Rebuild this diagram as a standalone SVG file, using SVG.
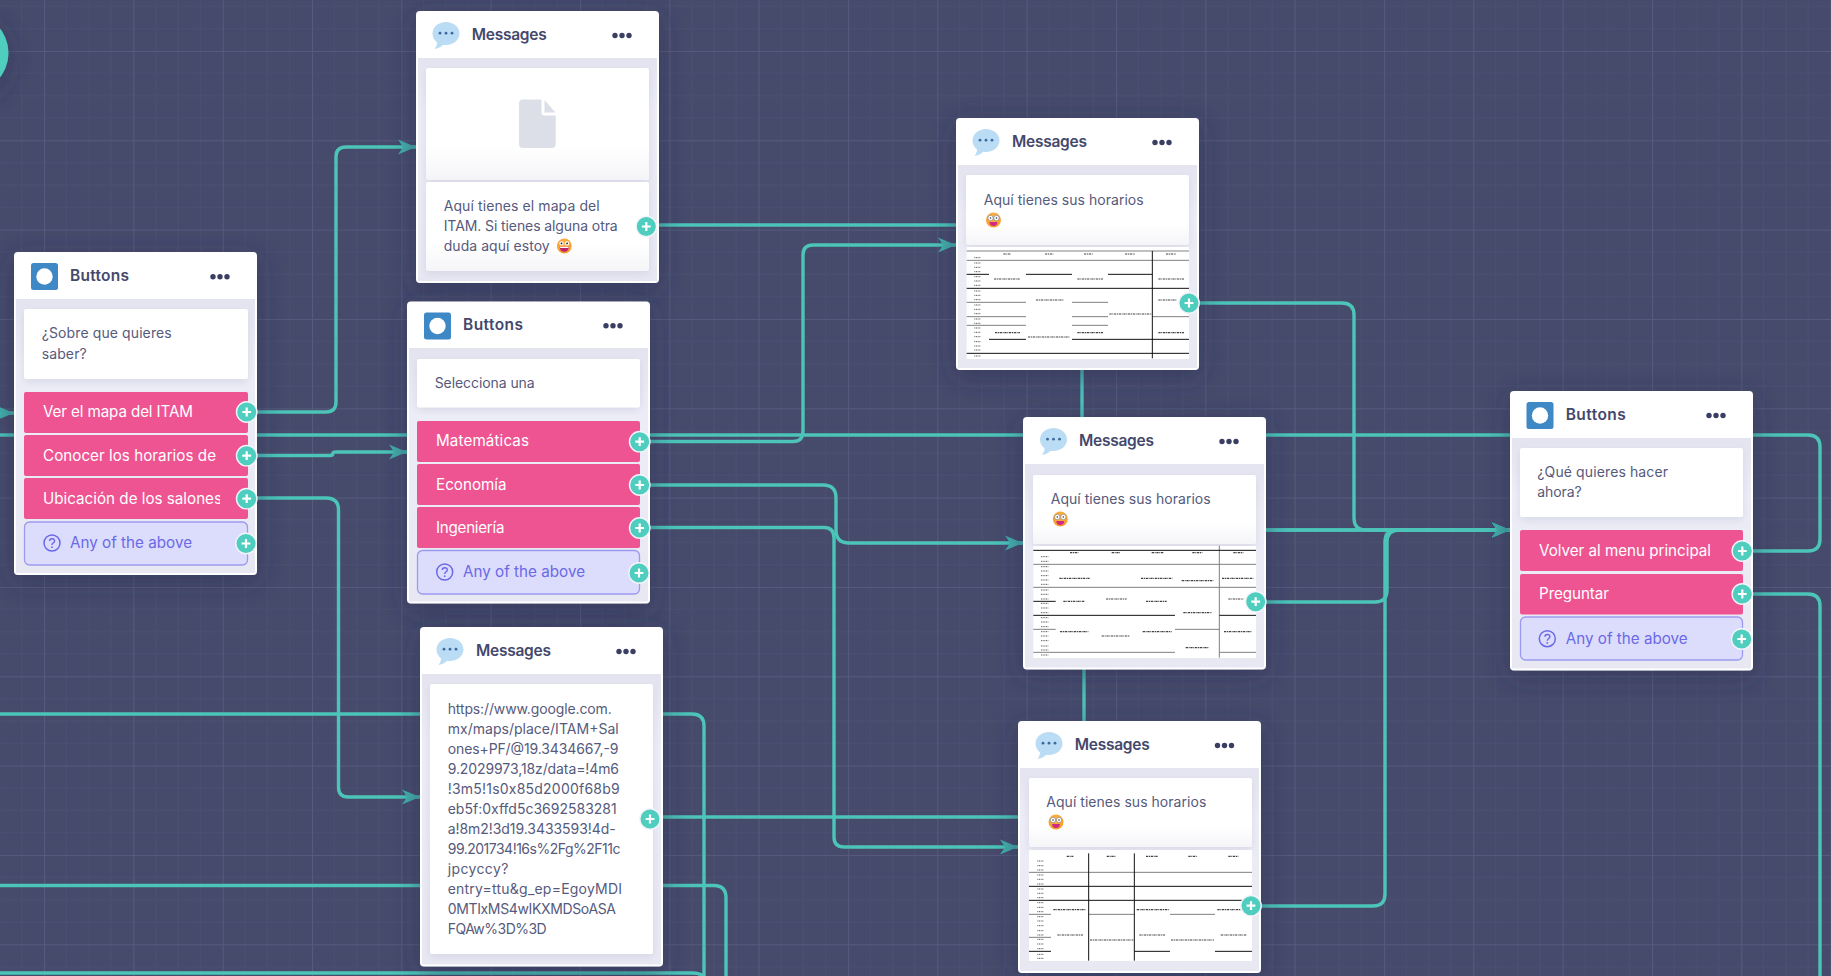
<svg xmlns="http://www.w3.org/2000/svg" width="1831" height="976" viewBox="0 0 1831 976">
<style>
text{font-family:"Inter","Noto Sans","Liberation Sans",sans-serif}
.title{font-size:15.5px;font-weight:600;fill:#44486c}
.body{font-size:14px;fill:#565a7c}
.btn{font-size:15.2px;fill:#fff}
.any{font-size:15.2px;fill:#6b69e6}
.bt{fill:#ee5492}
.anyb{fill:#dcdcfc;stroke:#9c9af0;stroke-width:1.3}
.card{fill:url(#cardg);filter:url(#cs)}
.plain{fill:#fff;filter:url(#cs)}
.conn{fill:none;stroke:#4cc4b8;stroke-width:3.4}
.arr{marker-end:url(#ah)}
.tb{stroke:#111;stroke-width:3;fill:none}
.tg{stroke:#808080;stroke-width:3;fill:none}
.tm{stroke:#444;stroke-width:3.5;fill:none;stroke-dasharray:7 2 3 2}
.ts{stroke:#555;stroke-width:3;fill:none;stroke-dasharray:3 2}
</style>
<defs>
<pattern id="grid" patternUnits="userSpaceOnUse" x="44" y="51" width="89.33" height="89.33">
<path d="M22.33 0V89.33M44.67 0V89.33M67 0V89.33M0 22.33H89.33M0 44.67H89.33M0 67H89.33" stroke="#4b4f71" stroke-width="1" fill="none"/>
<path d="M.5 0V89.33M0 .5H89.33" stroke="#565a7c" stroke-width="1" fill="none"/>
</pattern>
<linearGradient id="bodyg" x1="0" y1="0" x2="0" y2="1"><stop offset="0" stop-color="#e4e4f0"/><stop offset=".25" stop-color="#ededf7"/><stop offset="1" stop-color="#e8e8f3"/></linearGradient>
<linearGradient id="cardg" x1="0" y1="0" x2="0" y2="1"><stop offset=".7" stop-color="#fff"/><stop offset="1" stop-color="#f5f5f9"/></linearGradient>
<radialGradient id="emo" cx=".5" cy=".35" r=".7"><stop offset="0" stop-color="#ffb54a"/><stop offset="1" stop-color="#f39a28"/></radialGradient>
<filter id="ns" x="-30%" y="-30%" width="160%" height="160%"><feDropShadow dx="0" dy="6" stdDeviation="13" flood-color="#2b2e55" flood-opacity=".55"/></filter>
<filter id="cs" x="-10%" y="-15%" width="120%" height="130%"><feDropShadow dx="0" dy="3" stdDeviation="4" flood-color="#8d90b4" flood-opacity=".22"/></filter>
<marker id="ah" markerUnits="userSpaceOnUse" markerWidth="20" markerHeight="18" refX="19" refY="9" orient="auto"><path d="M1 1.5L19 9L1 16.5L6 9Z" fill="#42aeaa"/></marker>
<g id="ib"><rect x="0" y="0" width="27" height="27" rx="2.5" fill="#3e88c5"/><circle cx="13.5" cy="13.5" r="8.2" fill="#fff"/></g>
<g id="im"><path d="M13.5 0C21 0 27 5 27 11.5C27 18 21 23 13.5 23C12.6 23 11.7 22.9 10.8 22.8C9 24.6 6.5 26 2 27C3.6 25 4.4 23 4.6 20.6C1.8 18.4 0 15.2 0 11.5C0 5 6 0 13.5 0Z" fill="#bbdcf5"/><circle cx="7.5" cy="11.2" r="1.4" fill="#3d6a9c"/><circle cx="13.5" cy="11.2" r="1.4" fill="#3d6a9c"/><circle cx="19.5" cy="11.2" r="1.4" fill="#3d6a9c"/></g>
<g id="dots"><circle cx="0" cy="0" r="2.7" fill="#3a3e63"/><circle cx="7" cy="0" r="2.7" fill="#3a3e63"/><circle cx="14" cy="0" r="2.7" fill="#3a3e63"/></g>
<g id="plus"><circle r="10.2" fill="#4fcdbe" stroke="#f2f4fa" stroke-width="1.4"/><path d="M-4.4 0H4.4M0 -4.4V4.4" stroke="#fff" stroke-width="2.2"/></g>
<g id="q"><circle r="8" fill="none" stroke="#6b69e6" stroke-width="1.5"/><path d="M-2.4 -2C-2.4 -5 2.6 -5 2.6 -2C2.6 -.2 0 -.2 0 2" fill="none" stroke="#6b69e6" stroke-width="1.4"/><circle cx="0" cy="4.2" r=".9" fill="#6b69e6"/></g>
<g id="emo1"><circle r="7.4" fill="url(#emo)"/><circle cx="-2.8" cy="-2.6" r="2.1" fill="#fff"/><circle cx="2.8" cy="-2.6" r="2.1" fill="#fff"/><circle cx="-2.8" cy="-2.6" r=".9" fill="#222"/><circle cx="2.8" cy="-2.6" r=".9" fill="#222"/><path d="M-4.6 .8H4.6C4.4 4.6 2.2 5.9 0 5.9C-2.2 5.9 -4.4 4.6 -4.6 .8Z" fill="#c0246f"/><path d="M-4.2 .8H4.2V2H-4.2Z" fill="#fff"/></g>
<g id="emo2"><circle r="7.5" fill="url(#emo)"/><circle cx="-3" cy="-2" r="2.7" fill="#fff" stroke="#777" stroke-width=".6"/><circle cx="3" cy="-2" r="2.7" fill="#fff" stroke="#777" stroke-width=".6"/><circle cx="-3" cy="-2" r=".8" fill="#333"/><circle cx="3" cy="-2" r=".8" fill="#333"/><path d="M-4 2H4C3.8 5.2 1.8 6 0 6C-1.8 6 -3.8 5.2 -4 2Z" fill="#d02a82"/></g>
<clipPath id="clipU"><rect x="24" y="478" width="196" height="41"/></clipPath>
</defs>

<rect width="1831" height="976" fill="#464a6b"/>
<rect width="1831" height="976" fill="url(#grid)"/>
<circle cx="-31.5" cy="53" r="40" fill="#4fcdbe" filter="url(#ns)"/>

<g id="connectors">
<path class="conn arr" d="M-10 413H14"/>
<path class="conn" d="M1753 551H1808Q1820 551 1820 539V447Q1820 435 1808 435H0"/>
<path class="conn" d="M1753 594H1808Q1820 594 1820 606V980"/>
<path class="conn arr" d="M257 412H326Q336 412 336 402V157Q336 147 346 147H416"/>
<path class="conn arr" d="M257 455.5H330Q333 455.5 333 453Q333 452 336 452H407"/>
<path class="conn arr" d="M257 498H326Q338.5 498 338.5 510V787Q338.5 797 348 797H420"/>
<path class="conn" d="M0 714H692Q704 714 704 726V980"/>
<path class="conn" d="M0 885.5H714Q726 885.5 726 898V980"/>
<path class="conn" d="M0 973H692Q700 973 703 976"/>
<path class="conn arr" d="M650 441.5H793Q803 441.5 803 431V255Q803 245 813 245H956"/>
<path class="conn arr" d="M650 485H823Q836 485 836 498V530Q836 543 849 543H1023"/>
<path class="conn arr" d="M650 527.5H824Q834 527.5 834 538V837Q834 847 844 847H1018"/>
<path class="conn arr" d="M659 225H1070Q1082 225 1082 237V518Q1082 530 1094 530H1510"/>
<path class="conn arr" d="M663 817H1072Q1084 817 1084 805V542Q1084 530 1096 530H1510"/>
<path class="conn arr" d="M1199 303H1342Q1354 303 1354 315V518Q1354 530 1366 530H1510"/>
<path class="conn arr" d="M1266 602H1375Q1387 602 1387 590V542Q1387 530 1399 530H1510"/>
<path class="conn arr" d="M1261 906H1373Q1385 906 1385 894V542Q1385 530 1397 530H1510"/>
</g>

<g id="node-buttons-1">
<rect x="14" y="252" width="243" height="323" rx="4" fill="#fff" filter="url(#ns)"/>
<rect x="16" y="299" width="239" height="274" fill="url(#bodyg)"/>
<use href="#ib" x="31" y="263"/>
<text class="title" x="70" y="281" textLength="59">Buttons</text>
<use href="#dots" x="213" y="276.7"/>
<rect class="plain" x="24" y="309" width="224" height="70" rx="2"/>
<text class="body" x="41.7" y="338" textLength="130">¿Sobre que quieres</text>
<text class="body" x="41.7" y="359" textLength="45">saber?</text>
<rect class="bt" x="24" y="392" width="224" height="41" rx="2"/>
<rect class="bt" x="24" y="435" width="224" height="41" rx="2"/>
<rect class="bt" x="24" y="478" width="224" height="41" rx="2"/>
<rect class="anyb" x="24.5" y="522" width="223" height="43" rx="5"/>
<text class="btn" x="43" y="417" textLength="150">Ver el mapa del ITAM</text>
<text class="btn" x="43" y="461" textLength="173">Conocer los horarios de</text>
<text class="btn" x="43" y="504" textLength="179" clip-path="url(#clipU)">Ubicación de los salones</text>
<use href="#q" x="52" y="543"/>
<text class="any" x="70" y="548" textLength="122">Any of the above</text>
<use href="#plus" x="246.7" y="412"/><use href="#plus" x="246.7" y="455.7"/><use href="#plus" x="246.7" y="498.7"/><use href="#plus" x="246" y="543.5"/>
</g>

<g id="node-messages-map">
<rect x="416" y="11" width="243" height="272" rx="4" fill="#fff" filter="url(#ns)"/>
<rect x="418" y="58" width="239" height="223" fill="url(#bodyg)"/>
<use href="#im" x="432.5" y="22"/>
<text class="title" x="471.7" y="40" textLength="75">Messages</text>
<use href="#dots" x="615" y="35.5"/>
<rect class="card" x="426" y="68" width="223" height="112" rx="2"/>
<path d="M523 99.5H541.5V112.5Q541.5 115.5 544.5 115.5H555.7V144Q555.7 148 551.7 148H523Q519 148 519 144V103.5Q519 99.5 523 99.5Z" fill="#dcdfe8"/>
<path d="M544.5 100L555.5 112.5H544.5Z" fill="#dcdfe8"/>
<rect class="card" x="426" y="182" width="223" height="89" rx="2"/>
<text class="body" x="443.7" y="211" textLength="156">Aquí tienes el mapa del</text>
<text class="body" x="443.7" y="231" textLength="174">ITAM. Si tienes alguna otra</text>
<text class="body" x="443.7" y="251" textLength="106">duda aquí estoy</text>
<use href="#emo1" x="564.3" y="246"/>
<use href="#plus" x="646.3" y="226.5"/>
</g>

<g id="node-buttons-2">
<rect x="407" y="301.5" width="243" height="302" rx="4" fill="#fff" filter="url(#ns)"/>
<rect x="409" y="348" width="239" height="253.5" fill="url(#bodyg)"/>
<use href="#ib" x="424" y="312.5"/>
<text class="title" x="463" y="330" textLength="60">Buttons</text>
<use href="#dots" x="606" y="325.7"/>
<rect class="plain" x="417" y="359" width="223" height="48.5" rx="2"/>
<text class="body" x="434.7" y="388" textLength="100">Selecciona una</text>
<rect class="bt" x="417" y="421" width="223" height="41" rx="2"/>
<rect class="bt" x="417" y="464" width="223" height="41" rx="2"/>
<rect class="bt" x="417" y="507" width="223" height="41" rx="2"/>
<rect class="anyb" x="417.5" y="550.5" width="222" height="43.5" rx="5"/>
<text class="btn" x="436" y="446" textLength="93">Matemáticas</text>
<text class="btn" x="436" y="490" textLength="70.5">Economía</text>
<text class="btn" x="436" y="533" textLength="68.5">Ingeniería</text>
<use href="#q" x="444.7" y="572"/>
<text class="any" x="463" y="577" textLength="122">Any of the above</text>
<use href="#plus" x="639.7" y="441.7"/><use href="#plus" x="639.7" y="485"/><use href="#plus" x="639.7" y="528"/><use href="#plus" x="639" y="573"/>
</g>

<g id="node-messages-url">
<rect x="420" y="627" width="243" height="339.5" rx="4" fill="#fff" filter="url(#ns)"/>
<rect x="422" y="674" width="239" height="290.5" fill="url(#bodyg)"/>
<use href="#im" x="436.5" y="638"/>
<text class="title" x="476" y="656" textLength="75">Messages</text>
<use href="#dots" x="619" y="651.5"/>
<rect class="plain" x="430" y="684" width="223" height="270" rx="2"/>
<text class="body" x="447.7" y="714" textLength="164">https://www.google.com.</text>
<text class="body" x="447.7" y="734" textLength="171">mx/maps/place/ITAM+Sal</text>
<text class="body" x="447.7" y="754" textLength="170.7">ones+PF/@19.3434667,-9</text>
<text class="body" x="447.7" y="774" textLength="171.3">9.2029973,18z/data=!4m6</text>
<text class="body" x="447.7" y="794" textLength="172">!3m5!1s0x85d2000f68b9</text>
<text class="body" x="447.7" y="814" textLength="169">eb5f:0xffd5c3692583281</text>
<text class="body" x="447.7" y="834" textLength="168">a!8m2!3d19.3433593!4d-</text>
<text class="body" x="447.7" y="854" textLength="172.7">99.201734!16s%2Fg%2F11c</text>
<text class="body" x="447.7" y="874" textLength="60.7">jpcyccy?</text>
<text class="body" x="447.7" y="894" textLength="174.3">entry=ttu&amp;g_ep=EgoyMDI</text>
<text class="body" x="447.7" y="914" textLength="168.3">0MTIxMS4wIKXMDSoASA</text>
<text class="body" x="447.7" y="934" textLength="99">FQAw%3D%3D</text>
<use href="#plus" x="650" y="819"/>
</g>

<g id="node-messages-h1">
<rect x="956" y="118" width="243" height="252" rx="4" fill="#fff" filter="url(#ns)"/>
<rect x="958" y="165" width="239" height="203" fill="url(#bodyg)"/>
<use href="#im" x="972.5" y="129"/>
<text class="title" x="1012" y="147" textLength="75">Messages</text>
<use href="#dots" x="1155" y="142.5"/>
<rect class="card" x="966" y="175" width="223" height="70" rx="2"/>
<text class="body" x="983.7" y="205" textLength="160">Aquí tienes sus horarios</text>
<use href="#emo2" x="993.5" y="220"/>
<rect x="966.7" y="247" width="222.3" height="112" fill="#fff"/>
<g transform="translate(940,110) scale(.33333)">
<path class="tg" d="M80 423H747M80 451H747M80 577H258M396 577H504M80 620H258M396 620H504M637 620H747M80 646H258M396 646H504"/>
<path class="tb" d="M637 423V745M80 493H147M258 493H396M504 493H637M80 535H747M147 688H258M396 688H747M80 730H747"/>
<path class="tm" d="M190 432H212M315 432H340M432 432H458M555 432H585M678 432H708M162 507H240M412 507H490M655 507H733M288 570H370M655 570H710M508 612H635M165 668H240M412 668H490M655 668H733M264 681H390"/>
<path class="ts" d="M103 443H123M103 459H123M103 472H123M103 485H123M103 500H123M103 513H123M103 526H123M103 543H123M103 556H123M103 569H123M103 585H123M103 598H123M103 611H123M103 627H123M103 640H123M103 654H123M103 667H123M103 680H123M103 695H123M103 708H123M103 720H123M103 738H123"/>
</g>
<use href="#plus" x="1189" y="303"/>
</g>

<g id="node-messages-h2">
<rect x="1023" y="417" width="243" height="252.5" rx="4" fill="#fff" filter="url(#ns)"/>
<rect x="1025" y="464" width="239" height="203.5" fill="url(#bodyg)"/>
<use href="#im" x="1040" y="428"/>
<text class="title" x="1079" y="446" textLength="75">Messages</text>
<use href="#dots" x="1222" y="441.5"/>
<rect class="card" x="1033" y="475" width="223" height="69" rx="2"/>
<text class="body" x="1050.7" y="504" textLength="160">Aquí tienes sus horarios</text>
<use href="#emo2" x="1060.3" y="519"/>
<rect x="1033.3" y="546" width="222.7" height="112" fill="#fff"/>
<g transform="translate(1010,410) scale(.33333)">
<path class="tg" d="M628 407V743M70 463H738M70 532H738M70 658H137M495 658H628M70 727H495M628 727H738"/>
<path class="tb" d="M70 421H738M70 574H137M70 616H495M628 616H738"/>
<path class="tm" d="M180 428H205M305 428H330M425 428H460M547 428H577M670 428H700M148 505H240M393 505H487M636 505H730M515 512H610M160 574H225M408 574H470M288 567H350M655 567H700M520 608H605M150 665H235M398 665H485M642 665H725M275 678H360M527 713H595"/>
<path class="ts" d="M93 440H115M93 454H115M93 470H115M93 483H115M93 497H115M93 510H115M93 523H115M93 540H115M93 553H115M93 567H115M93 580H115M93 594H115M93 608H115M93 623H115M93 636H115M93 650H115M93 665H115M93 678H115M93 692H115M93 708H115M93 720H115M93 735H115"/>
</g>
<use href="#plus" x="1255.7" y="601.7"/>
</g>

<g id="node-messages-h3">
<rect x="1018" y="721" width="243" height="252" rx="4" fill="#fff" filter="url(#ns)"/>
<rect x="1020" y="768" width="239" height="203" fill="url(#bodyg)"/>
<use href="#im" x="1035.5" y="732"/>
<text class="title" x="1074.7" y="750" textLength="75">Messages</text>
<use href="#dots" x="1217.5" y="745.5"/>
<rect class="card" x="1029" y="778" width="223" height="69" rx="2"/>
<text class="body" x="1046.3" y="807" textLength="160">Aquí tienes sus horarios</text>
<use href="#emo2" x="1056" y="822"/>
<rect x="1029" y="850" width="223" height="111" fill="#fff"/>
<g transform="translate(1010,710) scale(.33333)">
<path class="tg" d="M57 487H726M57 613H123M236 613H373M480 613H615M57 682H123"/>
<path class="tb" d="M236 430V752M373 430V752M57 529H726M57 571H726M57 724H123M373 724H480M615 724H726"/>
<path class="tm" d="M170 439H190M290 439H317M408 439H445M535 439H560M655 439H685M130 599H228M380 599H478M622 599H710M142 675H220M388 675H465M632 675H710M240 690H370M483 690H612"/>
<path class="ts" d="M82 453H102M82 467H102M82 480H102M82 495H102M82 508H102M82 522H102M82 537H102M82 550H102M82 563H102M82 578H102M82 592H102M82 605H102M82 620H102M82 633H102M82 647H102M82 662H102M82 675H102M82 688H102M82 702H102M82 716H102M82 733H102M82 745H102"/>
</g>
<use href="#plus" x="1251" y="905.7"/>
</g>

<g id="node-buttons-3">
<rect x="1510" y="391" width="243" height="279.5" rx="4" fill="#fff" filter="url(#ns)"/>
<rect x="1512" y="438" width="239" height="230.5" fill="url(#bodyg)"/>
<use href="#ib" x="1526.5" y="402"/>
<text class="title" x="1565.7" y="420" textLength="60">Buttons</text>
<use href="#dots" x="1709" y="415.5"/>
<rect class="plain" x="1520" y="448" width="223" height="69" rx="2"/>
<text class="body" x="1537.3" y="477" textLength="130.7">¿Qué quieres hacer</text>
<text class="body" x="1537.3" y="497" textLength="44.4">ahora?</text>
<rect class="bt" x="1520" y="530" width="223" height="41" rx="2"/>
<rect class="bt" x="1520" y="574" width="223" height="40.5" rx="2"/>
<rect class="anyb" x="1520.5" y="617" width="222" height="43" rx="5"/>
<text class="btn" x="1539" y="556" textLength="172">Volver al menu principal</text>
<text class="btn" x="1539" y="599" textLength="70">Preguntar</text>
<use href="#q" x="1547.3" y="638.7"/>
<text class="any" x="1565.7" y="644" textLength="122">Any of the above</text>
<use href="#plus" x="1742.3" y="551"/><use href="#plus" x="1742.3" y="594"/><use href="#plus" x="1741.7" y="639"/>
</g>
</svg>
